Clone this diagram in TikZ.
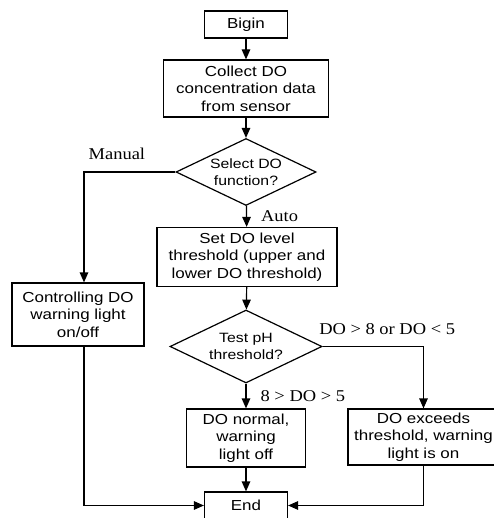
\documentclass[tikz,border=0pt]{standalone}
\usepackage{fontspec}
\setmainfont{Liberation Sans}[FakeStretch=1.17]
\newfontfamily\labelfont{Liberation Serif}[FakeStretch=1.12]
\usetikzlibrary{shapes.geometric,arrows.meta}

\tikzset{
  box/.style={draw, line width=1.2pt, align=center, inner sep=0pt,
    font=\fontsize{14.5}{17.5}\selectfont},
  choice/.style={draw, diamond, line width=1.2pt, align=center, inner sep=0pt,
    aspect=2, font=\fontsize{13.5}{16.5}\selectfont},
  lbl/.style={font=\labelfont\fontsize{16.5}{18}\selectfont, inner sep=0pt},
  line/.style={line width=1.2pt, -{Triangle[length=10pt,width=8.5pt]}}
}

\begin{document}
\begin{tikzpicture}[x=1pt,y=-1pt]
  \useasboundingbox (0,0) rectangle (493,518);
  % Main column
  \node[box, minimum width=83pt, minimum height=27pt] (bigin) at (246,24.5) {Bigin};
  \node[box, minimum width=165pt, minimum height=57pt] (collect) at (246,88.5)
    {Collect DO\\concentration data\\from sensor};
  \node[choice, minimum width=140pt, minimum height=67pt] (select) at (246,172)
    {Select DO\\function?};
  \node[box, minimum width=180pt, minimum height=59pt] (setdo) at (247,257)
    {Set DO level\\threshold (upper and\\lower DO threshold)};
  \node[choice, minimum width=152pt, minimum height=73pt] (test) at (246,346.5)
    {Test pH\\threshold?};
  \node[box, minimum width=119pt, minimum height=58pt] (normal) at (246,438)
    {DO normal,\\warning\\light off};
  \node[box, minimum width=83pt, minimum height=27pt] (fin) at (246,505.5) {End};
  % Side branches
  \node[box, minimum width=132pt, minimum height=63pt] (ctrl) at (78,314.5)
    {Controlling DO\\warning light\\on/off};
  \node[box, minimum width=151pt, minimum height=56pt] (exceed) at (423.5,437)
    {DO exceeds\\threshold, warning\\light is on};
  % Connectors
  \draw[line] (bigin) -- (collect);
  \draw[line] (collect) -- (select);
  \draw[line] (select) -- node[lbl, midway, right=14pt] {Auto} (setdo);
  \draw[line] (select.west) -| node[lbl, pos=0.32, above=12pt] {Manual}
    ([xshift=6pt]ctrl.north);
  \draw[line] (setdo) -- (test);
  \draw[line] (test) -- node[lbl, midway, right=14pt] {8 > DO > 5} (normal);
  \draw[line] (test.east) -| node[lbl, pos=0.32, above=11pt] {DO > 8 or DO < 5}
    (exceed.north);
  \draw[line] (normal) -- (fin);
  \draw[line] ([xshift=6pt]ctrl.south) |- (fin.west);
  \draw[line] (exceed.south) |- (fin.east);
\end{tikzpicture}
\end{document}
